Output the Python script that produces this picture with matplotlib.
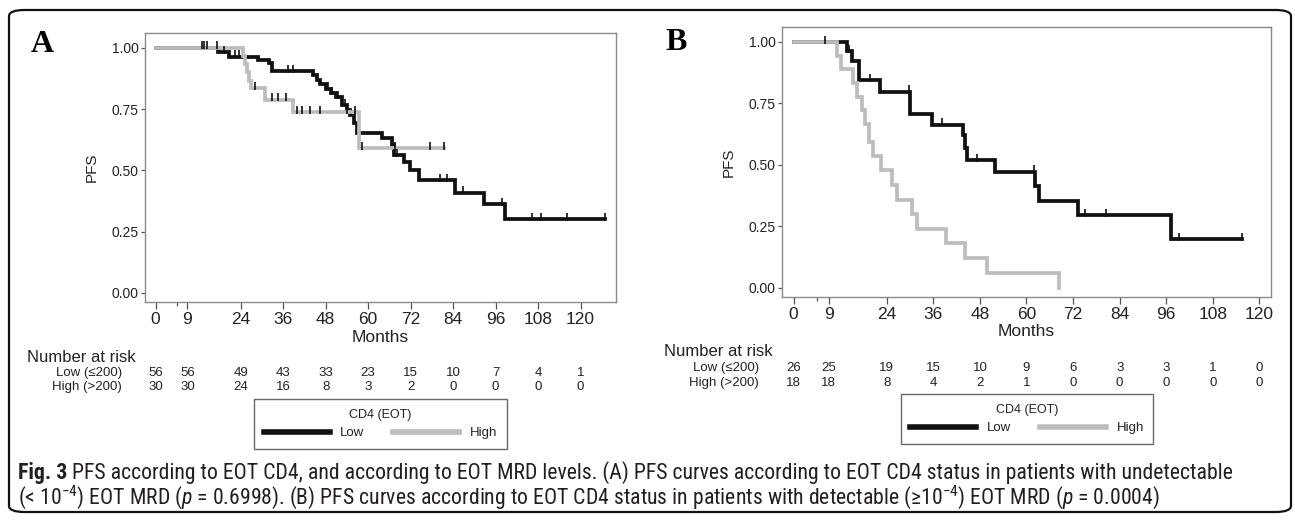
import numpy as np
import matplotlib
matplotlib.use("Agg")
import matplotlib.pyplot as plt
from matplotlib import font_manager
from matplotlib.patches import FancyBboxPatch
from matplotlib.lines import Line2D
import matplotlib.transforms as mtrans

# ── data ────────────────────────────────────────────────────────────────────
# panel A (undetectable EOT MRD)
a_low_t = [0, 17.7, 20.6, 29.0, 31.9, 32.8, 44.5, 45.5, 46.5, 48.0, 49.5, 51.0, 52.5,
           53.9, 55.0, 56.0, 57.0, 63.9, 66.7, 67.2, 70.0, 71.9, 74.5, 84.6, 92.6, 98.7, 127.0]
a_low_s = [1.0, 0.982, 0.964, 0.950, 0.937, 0.906, 0.888, 0.870, 0.852, 0.834, 0.816, 0.798, 0.767,
           0.747, 0.727, 0.694, 0.651, 0.631, 0.604, 0.563, 0.536, 0.502, 0.461, 0.409, 0.362, 0.300, 0.300]
a_low_cens = [13.2, 13.8, 14.5, 17.3, 19.2, 22.5, 23.6, 37.5, 38.9, 48.6, 49.8, 51.5, 53.5,
              67.4, 68.1, 80.4, 82.3, 86.8, 97.8, 106.4, 108.9, 116.3, 127.0]

a_high_t = [0, 24.8, 25.3, 25.8, 26.3, 26.8, 31.0, 38.7, 57.3, 81.4]
a_high_s = [1.0, 0.967, 0.933, 0.900, 0.867, 0.835, 0.788, 0.737, 0.590, 0.590]
a_high_cens = [28.0, 32.8, 34.5, 36.9, 40.0, 41.3, 43.5, 46.5, 54.0, 56.4, 58.2, 67.7, 77.5, 81.4]

# panel B (detectable EOT MRD)
b_low_t = [0, 13.7, 15.0, 16.9, 22.3, 30.0, 35.6, 43.7, 44.2, 44.7, 51.9, 62.2, 63.3, 73.3, 97.3, 115.4]
b_low_s = [1.0, 0.962, 0.923, 0.844, 0.797, 0.709, 0.664, 0.620, 0.570, 0.520, 0.472, 0.413,
           0.354, 0.295, 0.197, 0.197]
b_low_cens = [8.1, 14.2, 19.7, 29.8, 38.1, 47.2, 62.0, 75.0, 80.6, 99.4, 115.4]

b_high_t = [0, 11.2, 12.3, 15.2, 16.4, 17.6, 18.5, 19.5, 20.5, 22.6, 25.3, 26.7, 30.5, 31.7,
            39.2, 44.2, 49.8, 68.5]
b_high_s = [1.0, 0.944, 0.889, 0.833, 0.778, 0.722, 0.667, 0.593, 0.535, 0.478, 0.417, 0.357,
            0.302, 0.241, 0.181, 0.121, 0.060, 0.0]
b_high_cens = []

risk_times = [0, 9, 24, 36, 48, 60, 72, 84, 96, 108, 120]
a_risk_low = [56, 56, 49, 43, 33, 23, 15, 10, 7, 4, 1]
a_risk_high = [30, 30, 24, 16, 8, 3, 2, 0, 0, 0, 0]
b_risk_low = [26, 25, 19, 15, 10, 9, 6, 3, 3, 1, 0]
b_risk_high = [18, 18, 8, 4, 2, 1, 0, 0, 0, 0, 0]

x_ticks = [0, 9, 24, 36, 48, 60, 72, 84, 96, 108, 120]
y_ticks = [0.0, 0.25, 0.50, 0.75, 1.00]
group_labels = ["Low (\u2264200)", "High (>200)"]
legend_title = "CD4 (EOT)"
legend_names = ["Low", "High"]

caption_bold = "Fig. 3"
caption_1 = (" PFS according to EOT CD4, and according to EOT MRD levels. (A) PFS curves according "
             "to EOT CD4 status in patients with undetectable")
caption_2 = ("(< 10$^{-4}$) EOT MRD ($p$ = 0.6998). (B) PFS curves according to EOT CD4 status in "
             "patients with detectable (\u226510$^{-4}$) EOT MRD ($p$ = 0.0004)")

BLACK = "#111111"
GRAY = "#bdbdbd"
TXT = "#222222"


def pick_font(cands):
    names = {f.name for f in font_manager.fontManager.ttflist}
    for c in cands:
        if c in names:
            return c
    return "DejaVu Sans"


SANS = pick_font(["Liberation Sans", "Arial", "DejaVu Sans"])
NARROW = pick_font(["Liberation Sans Narrow", "Roboto Condensed", "Open Sans Condensed", SANS])
SERIF = pick_font(["Liberation Serif", "DejaVu Serif"])

plt.rcParams["font.family"] = [SANS, "DejaVu Sans"]
plt.rcParams["mathtext.fontset"] = "custom"
plt.rcParams["mathtext.rm"] = NARROW
plt.rcParams["mathtext.it"] = NARROW + ":italic"

W, H = 1295, 520
fig = plt.figure(figsize=(W / 100, H / 100), dpi=100)


def fy(px):
    return 1 - px / H


def step_at(t_list, s_list, t):
    idx = np.searchsorted(np.array(t_list), t, side="right") - 1
    return s_list[max(idx, 0)]


def km_panel(rect, xlim, curves, risk, rows):
    ax = fig.add_axes(rect)
    for t, s, cens, col in curves:
        ax.step(t, s, where="post", color=col, lw=2.7, solid_joinstyle="miter", zorder=3)
        if cens:
            cy = [step_at(t, s, c) for c in cens]
            ax.plot(cens, np.array(cy) + 0.01, ls="none", marker="|", ms=5.5, mew=1.2,
                    color=BLACK, zorder=4)
    ax.set_xlim(*xlim)
    ax.set_ylim(-0.037, 1.061)
    ax.set_xticks(x_ticks)
    ax.set_xticks([6], minor=True)
    ax.set_yticks(y_ticks)
    ax.set_yticklabels([f"{v:.2f}" for v in y_ticks])
    for sp in ax.spines.values():
        sp.set_color("#8a8a8a")
        sp.set_linewidth(1.0)
    ax.tick_params(axis="x", which="major", length=5, width=0.9, color="#555555",
                   labelsize=12.5, pad=2, labelcolor=TXT)
    ax.tick_params(axis="x", which="minor", length=3, width=0.9, color="#555555")
    ax.tick_params(axis="y", length=3, width=0.9, color="#555555", labelsize=10,
                   pad=1.5, labelcolor=TXT)
    ax.set_ylabel("PFS", fontsize=11, color=TXT, labelpad=9)

    tr = mtrans.blended_transform_factory(ax.transData, fig.transFigure)
    y_months, y_nar, y_low, y_high, leg_box = rows
    x0px = rect[0] * W
    cx = (rect[0] + rect[2] / 2)
    fig.text(cx, fy(y_months), "Months", ha="center", va="center", fontsize=12.5, color=TXT)
    fig.text((x0px - 118) / W, fy(y_nar), "Number at risk", ha="left",
             va="center", fontsize=12, color=TXT)
    for (yy, lab, vals) in [(y_low, group_labels[0], risk[0]), (y_high, group_labels[1], risk[1])]:
        fig.text((x0px - 23) / W, fy(yy), lab, ha="right", va="center",
                 fontsize=9.5, color=TXT)
        for xt, v in zip(risk_times, vals):
            ax.text(xt, fy(yy), str(v), transform=tr, ha="center", va="center",
                    fontsize=9.5, color=TXT)

    lx0, ly0, lx1, ly1 = leg_box
    handles = [Line2D([], [], color=BLACK, lw=4), Line2D([], [], color=GRAY, lw=4)]
    leg = fig.legend(handles, legend_names, title=legend_title, ncol=2,
                     loc="center", bbox_to_anchor=((lx0 + lx1) / 2 / W, fy((ly0 + ly1) / 2)),
                     fontsize=9.5, title_fontsize=9, frameon=True, fancybox=False,
                     handlelength=5.0, handletextpad=0.8, columnspacing=2.2,
                     borderpad=0.7, edgecolor="#444444")
    leg.get_frame().set_linewidth(1.0)
    leg.get_title().set_color(TXT)
    for t in leg.get_texts():
        t.set_color(TXT)
    return ax


# grey drawn last: it sits on top of black where both are at 1.00
axA = km_panel([145 / W, fy(302), (616 - 145) / W, (302 - 33) / H], (-3, 130),
               [(a_low_t, a_low_s, a_low_cens, BLACK), (a_high_t, a_high_s, a_high_cens, GRAY)],
               (a_risk_low, a_risk_high), (337, 357, 373, 387, (257, 400, 504, 448)))
axB = km_panel([782 / W, fy(297), (1271 - 782) / W, (297 - 27) / H], (-3, 123),
               [(b_low_t, b_low_s, b_low_cens, BLACK), (b_high_t, b_high_s, b_high_cens, GRAY)],
               (b_risk_low, b_risk_high), (331, 352, 368, 383, (898, 395, 1156, 443)))

fig.text(42 / W, fy(44), "A", family=SERIF, weight="bold", fontsize=23, ha="center", va="center")
fig.text(676 / W, fy(42), "B", family=SERIF, weight="bold", fontsize=23, ha="center", va="center")

# outer rounded frame
frame = FancyBboxPatch((9 / W, fy(512)), (1291 - 9) / W, (512 - 10) / H,
                       boxstyle="round,pad=0,rounding_size=0.012", transform=fig.transFigure,
                       facecolor="none", edgecolor="#111111", lw=1.6)
fig.patches.append(frame)

# caption: size chosen so the first line runs to the right edge as in the source
cap_fs = 12.5
t0 = fig.text(18 / W, fy(473), caption_bold, family=NARROW, weight="bold", fontsize=cap_fs,
              ha="left", va="center", color="#231f20")
t1 = fig.text(0, fy(473), caption_1, family=NARROW, fontsize=cap_fs, ha="left",
              va="center", color="#231f20")
fig.canvas.draw()
r = fig.canvas.get_renderer()
w_total = t0.get_window_extent(r).width + t1.get_window_extent(r).width
cap_fs = cap_fs * (1243 - 18) / w_total
t0.set_fontsize(cap_fs)
t1.set_fontsize(cap_fs)
fig.canvas.draw()
t1.set_x(t0.get_window_extent(r).x1 / W)
fig.text(18 / W, fy(497), caption_2, family=NARROW, fontsize=cap_fs, ha="left",
         va="center", color="#231f20")

fig.savefig("out.png", dpi=100)
